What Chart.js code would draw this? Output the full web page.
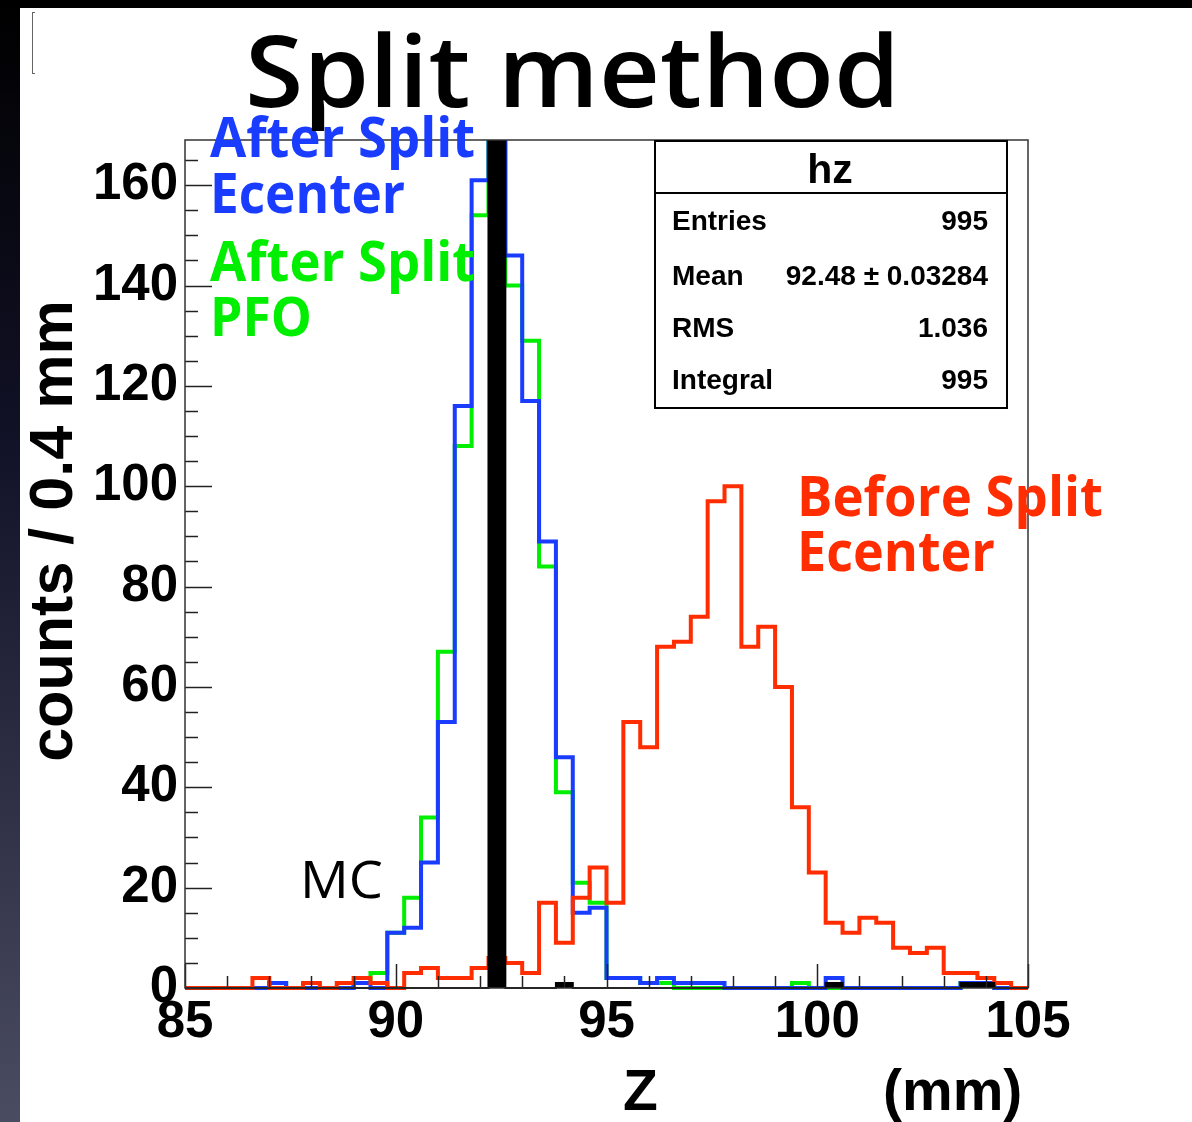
<!DOCTYPE html>
<html>
<head>
<meta charset="utf-8">
<script src="https://cdn.jsdelivr.net/npm/chart.js@4.4.1/dist/chart.umd.min.js"></script>
<style>
html, body { margin: 0; padding: 0; }
body { width: 1192px; height: 1122px; background: #000; position: relative; overflow: hidden; }
#side { position: absolute; left: 0; top: 0; width: 20px; height: 1122px; background: linear-gradient(#000 0%, #121228 40%, #4a4c62 100%); }
#sheet { position: absolute; left: 20px; top: 8px; right: 0; bottom: 0; background: #fff; }
#bracket { position: absolute; left: 32px; top: 12px; width: 2px; height: 60px; border: 1px solid #666; border-right: none; }
#wrap { position: absolute; left: 0; top: 0; width: 1192px; height: 1122px; }
</style>
</head>
<body>
<div id="side"></div>
<div id="sheet"></div>
<div id="bracket"></div>
<div id="wrap"><canvas id="hz" width="1192" height="1122"></canvas></div>
<script>
// binning of hz : 50 bins of 0.4 mm between 85 and 105
var xMin = 85;
var xMax = 105;
var binWidth = 0.4;
var xTicks = [85, 90, 95, 100, 105];
var yTicks = [0, 20, 40, 60, 80, 100, 120, 140, 160];

// counts per bin
var afterSplitEcenter = [0, 0, 0, 0, 0, 1, 0, 0, 0, 0,
                         1, 0, 11, 12, 25, 53, 116, 161, 185, 146,
                         117, 89, 46, 15, 16, 2, 2, 1, 2, 1,
                         1, 1, 0, 0, 0, 0, 0, 0, 2, 0,
                         0, 0, 0, 0, 0, 0, 1, 1, 0, 0];
var afterSplitPFO = [0, 0, 0, 0, 0, 1, 0, 0, 0, 0,
                     1, 3, 11, 18, 34, 67, 108, 154, 180, 140,
                     129, 84, 39, 21, 17, 2, 2, 1, 1, 0,
                     0, 0, 0, 0, 0, 0, 1, 0, 0, 0,
                     0, 0, 0, 0, 0, 0, 1, 1, 0, 0];
var beforeSplitEcenter = [0, 0, 0, 0, 2, 0, 0, 1, 0, 1,
                          2, 1, 0, 3, 4, 2, 2, 4, 6, 5,
                          3, 17, 9, 18, 24, 17, 53, 48, 68, 69,
                          74, 97, 100, 68, 72, 60, 36, 23, 13, 11,
                          14, 13, 8, 7, 8, 3, 3, 2, 1, 0];
var mcTruth = [0, 0, 0, 0, 0, 0, 0, 0, 0, 0,
               0, 0, 0, 0, 0, 0, 0, 0, 990, 0,
               0, 0, 1, 0, 0, 0, 0, 0, 0, 0,
               0, 0, 0, 0, 0, 0, 0, 0, 1, 0,
               0, 0, 0, 0, 0, 0, 1, 1, 0, 0];

var statsLabels = ['Entries', 'Mean', 'RMS', 'Integral'];
var statsValues = ['995', '92.48 \u00b1 0.03284', '1.036', '995'];

var blue = '#1a3cff';
var green = '#00ee00';
var red = '#ff2d00';

// histogram -> points on the bin low edges, plus the last high edge
function toSteps(counts) {
    var pts = counts.map(function (c, i) {
        return { x: xMin + i * binWidth, y: c };
    });
    pts.push({ x: xMax, y: counts[counts.length - 1] });
    return pts;
}

function histo(label, counts, color, order) {
    return {
        label: label,
        data: toSteps(counts),
        stepped: true,
        borderColor: color,
        borderWidth: 4,
        borderJoinStyle: 'miter',
        pointRadius: 0,
        fill: false,
        order: order,
        clip: { left: 0, top: 0, right: 0, bottom: 4 }
    };
}

var mcSet = histo('MC', mcTruth, '#000', 0);
mcSet.fill = 'origin';
mcSet.backgroundColor = '#000';
mcSet.borderWidth = 2;

var tickFont = { family: 'Liberation Sans', weight: 'bold', size: 51 };

function fitText(ctx, text, x, y, width, weight, family, color) {
    ctx.font = weight + ' 100px ' + family;
    var size = 100 * width / ctx.measureText(text).width;
    ctx.font = weight + ' ' + size.toFixed(1) + 'px ' + family;
    ctx.fillStyle = color;
    ctx.fillText(text, x, y);
}

// text with a given cap height, squeezed/stretched to a given width
function boxText(ctx, text, x, y, width, capH, weight, family, color) {
    var size = capH / 0.714;
    ctx.font = weight + ' ' + size.toFixed(1) + 'px ' + family;
    var w = ctx.measureText(text).width;
    ctx.save();
    ctx.translate(x, y);
    ctx.scale(width / w, 1);
    ctx.fillStyle = color;
    ctx.textAlign = 'left';
    ctx.fillText(text, 0, 0);
    ctx.restore();
}

// ROOT-like frame, inner ticks, stat box and the keynote labels
var rootDecor = {
    id: 'rootDecor',
    afterDatasetsDraw: function (chart) {
        var ctx = chart.ctx;
        var a = chart.chartArea;
        var sx = chart.scales.x;
        var sy = chart.scales.y;
        ctx.save();

        ctx.strokeStyle = '#222';
        ctx.lineWidth = 1.5;
        var v, p;
        for (v = 0; v <= sy.max; v += 5) {
            p = Math.round(sy.getPixelForValue(v)) + 0.5;
            ctx.beginPath();
            ctx.moveTo(a.left, p);
            ctx.lineTo(a.left + (v % 20 === 0 ? 27 : 13), p);
            ctx.stroke();
        }
        for (v = xMin; v <= xMax; v += 1) {
            p = Math.round(sx.getPixelForValue(v)) + 0.5;
            ctx.beginPath();
            ctx.moveTo(p, a.bottom);
            ctx.lineTo(p, a.bottom - (v % 5 === 0 ? 24 : 12));
            ctx.stroke();
        }
        ctx.strokeStyle = '#333';
        ctx.lineWidth = 1.5;
        ctx.strokeRect(a.left, a.top, a.right - a.left, a.bottom - a.top);

        // stat box
        var bx = 655, by = 141, bw = 352, bh = 267;
        ctx.fillStyle = '#fff';
        ctx.fillRect(bx, by, bw, bh);
        ctx.strokeStyle = '#000';
        ctx.lineWidth = 2;
        ctx.strokeRect(bx, by, bw, bh);
        ctx.beginPath();
        ctx.moveTo(bx, 193);
        ctx.lineTo(bx + bw, 193);
        ctx.stroke();
        ctx.fillStyle = '#000';
        ctx.font = 'bold 41px "Liberation Sans"';
        ctx.textAlign = 'center';
        ctx.fillText('hz', bx + bw / 2 - 1, 183);
        ctx.font = 'bold 28px "Liberation Sans"';
        var rows = [230, 285, 337, 389];
        statsLabels.forEach(function (lab, i) {
            ctx.textAlign = 'left';
            ctx.fillText(lab, 672, rows[i]);
            ctx.textAlign = 'right';
            ctx.fillText(statsValues[i], 988, rows[i]);
        });

        // labels
        ctx.textBaseline = 'alphabetic';
        var fam = '"Open Sans"';
        boxText(ctx, 'After Split', 210, 157, 265, 40, 'bold', fam, blue);
        boxText(ctx, 'Ecenter', 210, 213, 195, 40, 'bold', fam, blue);
        boxText(ctx, 'After Split', 210, 281, 265, 40, 'bold', fam, green);
        boxText(ctx, 'PFO', 210, 336, 102, 39, 'bold', fam, green);
        boxText(ctx, 'MC', 300, 898, 83, 37, '500', fam, '#000');
        boxText(ctx, 'Before Split', 797, 516, 306, 40, 'bold', fam, red);
        boxText(ctx, 'Ecenter', 797, 571, 198, 40, 'bold', fam, red);
        boxText(ctx, 'Split method', 245, 107, 655, 71, '600', fam, '#000');

        // axis titles
        ctx.textAlign = 'left';
        ctx.font = 'bold 57px "Liberation Sans"';
        ctx.fillStyle = '#000';
        ctx.fillText('Z', 623, 1110);
        ctx.fillText('(mm)', 883, 1110);
        ctx.translate(72, 531);
        ctx.rotate(-Math.PI / 2);
        ctx.textAlign = 'center';
        fitText(ctx, 'counts / 0.4 mm', 0, 0, 462, 'bold', '"Liberation Sans"', '#000');
        ctx.restore();
    }
};

var ctx = document.getElementById('hz');
var myChart = new Chart(ctx, {
    type: 'line',
    data: {
        datasets: [
            mcSet,
            histo('Before Split Ecenter', beforeSplitEcenter, red, 1),
            histo('After Split Ecenter', afterSplitEcenter, blue, 2),
            histo('After Split PFO', afterSplitPFO, green, 3)
        ]
    },
    options: {
        responsive: false,
        animation: false,
        layout: { padding: { top: 140, right: 164, left: 0, bottom: 0 } },
        plugins: {
            legend: { display: false },
            tooltip: { enabled: false },
            title: { display: false }
        },
        scales: {
            x: {
                type: 'linear',
                min: xMin,
                max: xMax,
                afterBuildTicks: function (s) {
                    s.ticks = xTicks.map(function (v) { return { value: v }; });
                },
                afterFit: function (s) { s.height = 134; },
                ticks: { font: tickFont, color: '#000', padding: 4, maxRotation: 0, autoSkip: false },
                grid: { display: false, drawTicks: false },
                border: { display: false }
            },
            y: {
                type: 'linear',
                min: 0,
                max: 169,
                afterBuildTicks: function (s) {
                    s.ticks = yTicks.map(function (v) { return { value: v }; });
                },
                afterFit: function (s) { s.width = 185; },
                ticks: { font: tickFont, color: '#000', padding: 7, autoSkip: false },
                grid: { display: false, drawTicks: false },
                border: { display: false }
            }
        }
    },
    plugins: [rootDecor]
});
</script>
</body>
</html>
